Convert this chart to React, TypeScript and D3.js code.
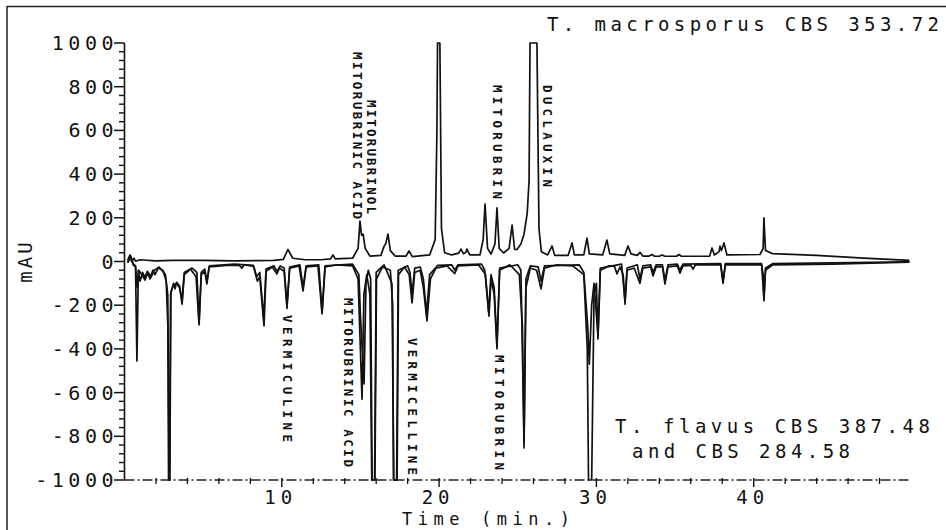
import React from 'react';
import * as d3 from 'd3';

// Retention time (min) vs absorbance (mAU).
const MACROSPORUS_353_72: [number, number][] = [
  [0.2, 5], [0.35, 30], [0.45, 0], [0.6, 15], [0.7, 2], [1.0, 8], [2.0, 3], [3.0, 5], [5, 5], [7, 3],
  [9.5, 5], [10.1, 10], [10.39, 55], [10.7, 15], [11.5, 8], [12.5, 8], [13.1, 12], [13.25, 30], [13.4, 12],
  [14.5, 15], [14.85, 60], [14.97, 185], [15.07, 120], [15.17, 125], [15.3, 60], [15.6, 25], [16.3, 28],
  [16.5, 70], [16.6, 80], [16.75, 125], [16.9, 50], [17.2, 25], [17.9, 25], [18.09, 48], [18.3, 22],
  [19.4, 30], [19.75, 100], [19.86, 590], [19.9, 1000], [20.05, 1000], [20.15, 150], [20.35, 40],
  [20.8, 30], [21.25, 38], [21.39, 57], [21.55, 35], [21.7, 42], [21.77, 57], [21.95, 30], [22.6, 30],
  [22.8, 100], [22.92, 263], [23.08, 60], [23.3, 34], [23.55, 80], [23.68, 245], [23.82, 60], [24.1, 39],
  [24.45, 60], [24.64, 167], [24.8, 55], [24.95, 55], [25.2, 80], [25.4, 125], [25.6, 220], [25.72, 370],
  [25.78, 1000], [26.22, 1000], [26.35, 150], [26.5, 45], [26.9, 30], [27.18, 71], [27.35, 28], [28.2, 28],
  [28.45, 85], [28.6, 30], [29.2, 30], [29.4, 107], [29.55, 35], [30.4, 30], [30.67, 98], [30.85, 35],
  [31.8, 28], [32.01, 71], [32.2, 35], [32.6, 28], [32.77, 42], [32.95, 25], [33.35, 25], [33.53, 32],
  [33.7, 24], [34.0, 24], [34.17, 30], [34.35, 24], [35.1, 24], [35.25, 32], [35.4, 24], [37.2, 25],
  [37.35, 62], [37.5, 30], [37.8, 45], [37.86, 70], [37.95, 50], [38.11, 85], [38.3, 30], [40.4, 32],
  [40.6, 60], [40.65, 200], [40.75, 50], [41.2, 36], [44, 28], [47, 15], [49.9, 5],
];

const FLAVUS_387_48: [number, number][] = [
  [0.2, -5], [0.4, 25], [0.55, -15], [0.7, -25], [0.79, -455], [0.88, -40], [0.99, -90], [1.15, -50],
  [1.3, -75], [1.45, -45], [1.62, -80], [1.8, -40], [1.94, -60], [2.15, -30], [2.45, -40], [2.65, -90],
  [2.76, -300], [2.8, -1000], [2.87, -1000], [2.93, -150], [3.02, -125], [3.12, -100], [3.21, -125],
  [3.32, -95], [3.5, -112], [3.66, -195], [3.8, -60], [4.2, -35], [4.55, -70], [4.74, -290], [4.88, -60],
  [5.1, -45], [5.24, -103], [5.38, -25], [6.5, -18], [7.3, -18], [7.47, -30], [7.6, -15], [8.2, -22],
  [8.45, -90], [8.6, -70], [8.87, -295], [9.0, -45], [9.4, -25], [9.69, -57], [9.85, -30], [10.15, -45],
  [10.33, -215], [10.5, -30], [11.1, -20], [11.35, -135], [11.55, -25], [12.3, -20], [12.56, -240],
  [12.75, -25], [13.5, -15], [14.5, -20], [14.85, -80], [15.1, -630], [15.22, -150], [15.4, -60],
  [15.6, -150], [15.72, -1000], [15.92, -1000], [16.02, -80], [16.4, -25], [16.9, -40], [17.05, -200],
  [17.1, -1000], [17.33, -1000], [17.42, -60], [17.8, -25], [18.1, -60], [18.28, -190], [18.45, -50],
  [18.8, -40], [19.0, -120], [19.23, -272], [19.45, -80], [19.8, -30], [20.5, -20], [21.0, -55],
  [21.2, -20], [22.5, -15], [22.95, -60], [23.17, -250], [23.3, -80], [23.5, -150], [23.68, -400],
  [23.85, -40], [24.5, -15], [25.1, -60], [25.3, -300], [25.4, -853], [25.52, -120], [25.8, -30],
  [26.2, -40], [26.48, -125], [26.7, -30], [27.5, -15], [28.5, -20], [29.2, -60], [29.42, -400],
  [29.5, -1000], [29.7, -1000], [29.85, -150], [30.0, -100], [30.1, -355], [30.25, -40], [30.8, -20],
  [31.15, -22], [31.31, -57], [31.5, -25], [31.7, -60], [31.82, -195], [31.95, -40], [32.4, -30],
  [32.77, -100], [32.95, -30], [33.45, -25], [33.6, -66], [33.8, -25], [34.2, -25], [34.36, -103],
  [34.55, -25], [35.15, -20], [35.31, -53], [35.5, -20], [36.0, -18], [36.14, -35], [36.3, -15],
  [37.9, -15], [38.05, -100], [38.2, -15], [40.5, -15], [40.6, -60], [40.65, -180], [40.75, -40],
  [41.2, -15], [45, -12], [49.9, -3],
];

const FLAVUS_284_58: [number, number][] = [
  [0.2, -5], [0.4, 20], [0.55, -10], [0.7, -20], [0.8, -120], [0.9, -40], [1.1, -60], [1.3, -85],
  [1.5, -50], [1.7, -70], [1.9, -40], [2.2, -25], [2.6, -60], [2.75, -150], [2.84, -1000], [2.88, -1000],
  [2.95, -140], [3.1, -110], [3.3, -100], [3.5, -120], [3.66, -180], [3.8, -50], [4.3, -30], [4.6, -50],
  [4.74, -280], [4.88, -50], [5.1, -35], [5.24, -90], [5.4, -20], [7.0, -12], [8.2, -18], [8.4, -70],
  [8.6, -50], [8.85, -260], [9.0, -35], [9.5, -20], [9.7, -45], [9.9, -20], [10.15, -30], [10.33, -200],
  [10.5, -25], [11.15, -15], [11.35, -120], [11.55, -20], [12.35, -15], [12.56, -230], [12.75, -20],
  [14.5, -12], [14.9, -60], [15.0, -250], [15.23, -560], [15.35, -100], [15.5, -40], [15.65, -80],
  [15.74, -1000], [15.9, -1000], [16.0, -50], [16.5, -15], [17.0, -100], [17.12, -1000], [17.3, -1000],
  [17.4, -40], [18.0, -20], [18.15, -50], [18.28, -150], [18.45, -30], [18.8, -25], [19.0, -80],
  [19.2, -240], [19.4, -60], [19.9, -18], [20.8, -15], [21.0, -40], [21.2, -15], [22.7, -12], [22.9, -40],
  [23.15, -230], [23.3, -60], [23.5, -120], [23.68, -380], [23.85, -30], [25.0, -15], [25.2, -40],
  [25.4, -820], [25.52, -80], [25.8, -20], [26.3, -25], [26.48, -90], [26.7, -20], [28.9, -15],
  [29.2, -50], [29.45, -300], [29.55, -470], [29.7, -200], [29.85, -100], [30.1, -340], [30.25, -30],
  [31.6, -12], [31.82, -180], [31.95, -30], [32.6, -15], [32.77, -80], [32.95, -20], [33.45, -15],
  [33.6, -50], [33.8, -15], [34.2, -15], [34.36, -90], [34.55, -15], [35.15, -12], [35.3, -40],
  [35.5, -12], [37.9, -10], [38.05, -90], [38.2, -10], [40.5, -10], [40.65, -170], [40.75, -30],
  [41.2, -10], [45, -6], [49.9, -2],
];

const Y_TICKS = [-1000, -800, -600, -400, -200, 0, 200, 400, 600, 800, 1000];
const Y_TICK_LABELS = ['-1000', '-800', '-600', '-400', '-200', '0', '200', '400', '600', '800', '1000'];
const X_TICKS = [10, 20, 30, 40];
const X_TICK_LABELS = ['10', '20', '30', '40'];

// Peak annotations: name, anchor time (min), anchor mAU (start of the vertical text)
const PEAK_NAMES = ['MITORUBRINIC ACID', 'MITORUBRINOL', 'MITORUBRIN', 'DUCLAUXIN',
  'VERMICULINE', 'MITORUBRINIC ACID', 'VERMICELLINE', 'MITORUBRIN'];
const PEAK_TIMES = [14.84, 15.73, 23.74, 26.92, 10.39, 14.21, 18.28, 23.87];
const PEAK_ANCHOR_MAU = [959, 739, 808, 808, -245, -167, -350, -428];
const PEAK_TEXT_LEN = [167, 114, 114, 102, 127, 169, 137, 115];

const FONT = "'DejaVu Sans Mono', 'Liberation Mono', monospace";

export default function App() {
  const x = d3.scaleLinear().domain([0, 50]).range([124.5, 911]);
  const y = d3.scaleLinear().domain([-1000, 1000]).range([480, 43]);
  const line = d3.line<[number, number]>().x(d => x(d[0])).y(d => y(d[1]));

  const yMinor = d3.range(-1000, 1001, 40).filter(v => v % 200 !== 0);
  const xMinor = d3.range(2, 50, 2).filter(v => v % 10 !== 0);

  const txt = { fontFamily: FONT, fill: '#111' } as const;

  return (
    <svg width={946} height={530} style={{ position: 'absolute', left: 0, top: 0, background: '#fff' }}>
      <rect x={0} y={0} width={946} height={530} fill="#fff" />
      {/* frame */}
      <line x1={7} y1={6.5} x2={946} y2={6.5} stroke="#222" strokeWidth={1.5} />
      <line x1={7} y1={6} x2={7} y2={530} stroke="#222" strokeWidth={1.5} />

      {/* y axis */}
      <line x1={124.5} y1={y(1000)} x2={124.5} y2={y(-1000)} stroke="#111" strokeWidth={1.6} />
      {yMinor.map(v => (
        <line key={'ym' + v} x1={119} x2={124.5} y1={y(v)} y2={y(v)} stroke="#111" strokeWidth={1.4} />
      ))}
      {Y_TICKS.map((v, i) => (
        <g key={'yt' + v}>
          <line x1={114} x2={124.5} y1={y(v)} y2={y(v)} stroke="#111" strokeWidth={1.5} />
          <text x={118} y={y(v) + 7} textAnchor="end" fontSize={20} letterSpacing={4.5} {...txt}>
            {Y_TICK_LABELS[i]}
          </text>
        </g>
      ))}

      {/* x axis */}
      <line x1={x(0)} y1={y(-1000)} x2={x(50)} y2={y(-1000)} stroke="#222" strokeWidth={1.3} strokeDasharray="10 3 2 3" />
      {xMinor.map(t => (
        <line key={'xm' + t} x1={x(t)} x2={x(t)} y1={y(-1000) - 2} y2={y(-1000) + 4} stroke="#111" strokeWidth={1.3} />
      ))}
      {X_TICKS.map((t, i) => (
        <g key={'xt' + t}>
          <line x1={x(t)} x2={x(t)} y1={y(-1000) - 2} y2={y(-1000) + 7} stroke="#111" strokeWidth={1.4} />
          <text x={x(t) - 1} y={504} textAnchor="middle" fontSize={19} letterSpacing={5} {...txt}>
            {X_TICK_LABELS[i]}
          </text>
        </g>
      ))}
      <text x={402} y={525} fontSize={17} textLength={168} lengthAdjust="spacing" {...txt}>Time (min.)</text>
      <text transform="translate(25,261) rotate(-90)" textAnchor="middle" dominantBaseline="central"
        fontSize={19} letterSpacing={3} {...txt}>mAU</text>

      {/* traces */}
      <g fill="none" stroke="#111" strokeWidth={1.7} strokeLinejoin="round">
        <path d={line(FLAVUS_284_58) || ''} />
        <path d={line(FLAVUS_387_48) || ''} />
        <path d={line(MACROSPORUS_353_72) || ''} />
      </g>

      {/* strain labels */}
      <text x={547} y={31} fontSize={19} textLength={392} lengthAdjust="spacing" {...txt}>T. macrosporus CBS 353.72</text>
      <text x={615} y={433} fontSize={19} textLength={315} lengthAdjust="spacing" {...txt}>T. flavus CBS 387.48</text>
      <text x={632} y={458} fontSize={19} textLength={218} lengthAdjust="spacing" {...txt}>and CBS 284.58</text>

      {/* peak annotations */}
      {PEAK_NAMES.map((name, i) => (
        <text key={'pk' + i} transform={`translate(${x(PEAK_TIMES[i])},${y(PEAK_ANCHOR_MAU[i])}) rotate(90)`}
          dominantBaseline="central" fontSize={12.5} fontWeight="bold"
          textLength={PEAK_TEXT_LEN[i]} lengthAdjust="spacing" {...txt}>
          {name}
        </text>
      ))}
    </svg>
  );
}
